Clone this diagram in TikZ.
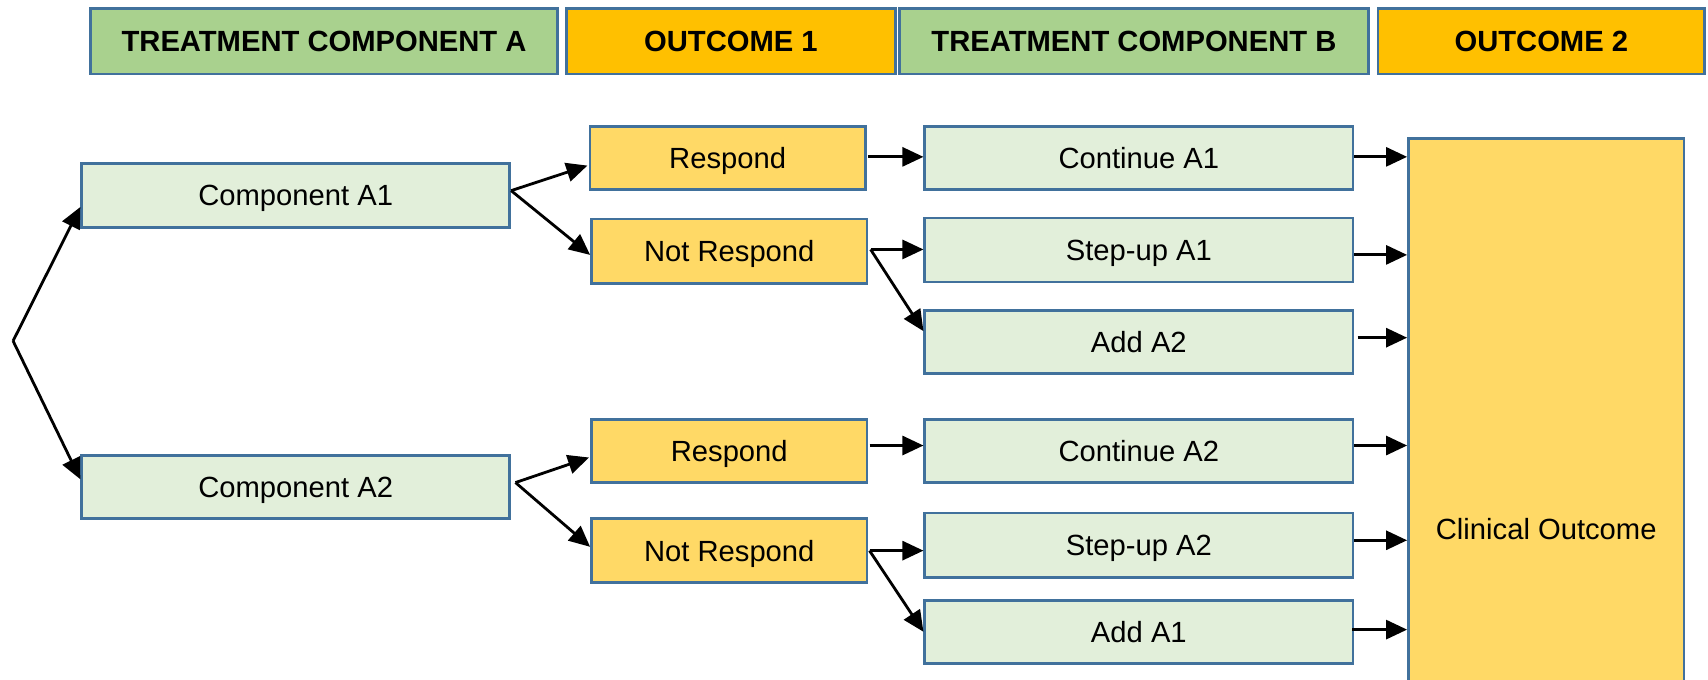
\documentclass[tikz,border=0pt]{standalone}
\usepackage{fontspec}
\setmainfont{Liberation Sans}
\usetikzlibrary{arrows.meta,calc}

\definecolor{edge}{HTML}{41719C}
\definecolor{hdrgreen}{HTML}{A9D18E}
\definecolor{hdrorange}{HTML}{FFC000}
\definecolor{paleGreen}{HTML}{E2EFDA}
\definecolor{paleGold}{HTML}{FFD966}

\newdimen\U
\U=0.5447pt

\begin{document}
\begin{tikzpicture}[x=0.5447pt, y=-0.5447pt,
  box/.style={draw=edge, line width=1.35pt, inner sep=0pt, align=center,
    text height=10.45pt, text depth=0pt,
    font=\fontsize{14.6pt}{17pt}\selectfont},
  header/.style={box, font=\fontsize{14.6pt}{17pt}\selectfont\bfseries,
    minimum height=60*\U},
  greenhdr/.style={header, fill=hdrgreen},
  orangehdr/.style={header, fill=hdrorange},
  treat/.style={box, fill=paleGreen, minimum width=393*\U},
  resp/.style={box, fill=paleGold, minimum width=253*\U},
  arr/.style={line width=1.4pt, -{Triangle[length=10.5pt,width=9.5pt]}}
]
\useasboundingbox (0,0) rectangle (1568,624);

% column headers
\node[greenhdr,  minimum width=429*\U] (hA)  at (297.5,38) {TREATMENT COMPONENT A};
\node[orangehdr, minimum width=302*\U] (hO1) at (671,38)   {OUTCOME 1};
\node[greenhdr,  minimum width=430*\U] (hB)  at (1041,38)  {TREATMENT COMPONENT B};
\node[orangehdr, minimum width=300*\U] (hO2) at (1415,38)  {OUTCOME 2};

% first-stage components
\node[treat, minimum height=59*\U] (a1) at (271.5,179.5) {Component A1};
\node[treat, minimum height=58*\U] (a2) at (271.5,447)   {Component A2};

% responses
\node[resp, minimum height=58*\U] (r1) at (668,145)     {Respond};
\node[resp, minimum height=59*\U] (n1) at (669.5,230.5) {Not Respond};
\node[resp, minimum height=58*\U] (r2) at (669.5,414)   {Respond};
\node[resp, minimum height=59*\U] (n2) at (669.5,505.5) {Not Respond};

% second-stage components
\node[treat, minimum height=58*\U] (c1) at (1045.5,145)   {Continue A1};
\node[treat, minimum height=59*\U] (s1) at (1045.5,229.5) {Step-up A1};
\node[treat, minimum height=58*\U] (d2) at (1045.5,314)   {Add A2};
\node[treat, minimum height=58*\U] (c2) at (1045.5,414)   {Continue A2};
\node[treat, minimum height=59*\U] (s2) at (1045.5,500.5) {Step-up A2};
\node[treat, minimum height=58*\U] (d1) at (1045.5,580)   {Add A1};

% final outcome
\node[box, fill=paleGold, minimum width=253*\U, minimum height=507*\U] (co) at (1419.5,380.5) {};
\node[font=\fontsize{14.6pt}{17pt}\selectfont, inner sep=0pt,
  text height=10.45pt, text depth=0pt] (cotext) at (1419.5,486) {Clinical Outcome};

% randomisation point
\coordinate (root) at (12,313);
\draw[arr] (root) -- ($(a1.west)+(0,10.5)$);
\draw[arr] (root) -- ($(a2.west)+(0,-7)$);

% component A1 branches
\coordinate (a1f) at ($(a1.east)+(0,-4.5)$);
\draw[arr] (a1f) -- ($(r1.west)+(-1,7)$);
\draw[arr] (a1f) -- ($(n1.west)+(0,3.5)$);

% component A2 branches
\coordinate (a2f) at ($(a2.east)+(4,-4)$);
\draw[arr] (a2f) -- ($(r2.west)+(-1,6)$);
\draw[arr] (a2f) -- ($(n2.west)+(0,-3.5)$);

% response to stage-two treatments
\draw[arr] ($(r1.east)+(1,-1)$) -- ($(c1.west)+(0,-1)$);
\coordinate (n1f) at ($(n1.east)+(2,-1.5)$);
\draw[arr] (n1f) -- (n1f -| s1.west);
\draw[arr] (n1f) -- ($(d2.west)+(0,-10)$);
\draw[arr] ($(r2.east)+(1,-5)$) -- ($(c2.west)+(0,-5)$);
\coordinate (n2f) at ($(n2.east)+(1,0)$);
\draw[arr] (n2f) -- (n2f -| s2.west);
\draw[arr] (n2f) -- (d1.west);

% stage-two treatments to clinical outcome
\coordinate (c1o) at ($(c1.east)+(0,-1)$);
\coordinate (s1o) at ($(s1.east)+(0,4.5)$);
\coordinate (d2o) at ($(d2.east)+(3,-4)$);
\coordinate (c2o) at ($(c2.east)+(0,-5)$);
\coordinate (s2o) at ($(s2.east)+(0,-4.5)$);
\coordinate (d1o) at ($(d1.east)+(-2,-2)$);
\draw[arr] (c1o) -- (c1o -| co.west);
\draw[arr] (s1o) -- (s1o -| co.west);
\draw[arr] (d2o) -- (d2o -| co.west);
\draw[arr] (c2o) -- (c2o -| co.west);
\draw[arr] (s2o) -- (s2o -| co.west);
\draw[arr] (d1o) -- (d1o -| co.west);
\end{tikzpicture}
\end{document}
